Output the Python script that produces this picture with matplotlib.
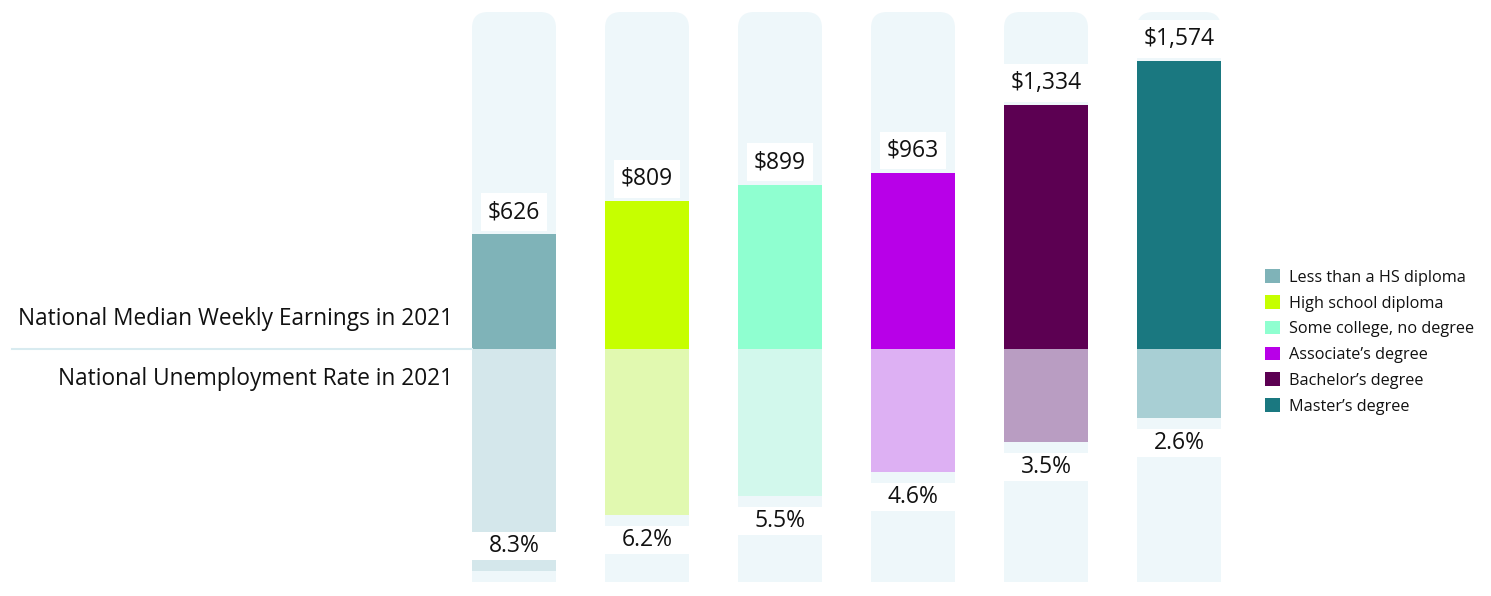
import matplotlib
matplotlib.use("Agg")
import matplotlib.pyplot as plt
from matplotlib.patches import FancyBboxPatch, Patch
from matplotlib.lines import Line2D

plt.rcParams['font.family'] = ['Open Sans', 'DejaVu Sans']

# Dados
categorias = ["Less than a HS diploma", "High school diploma", "Some college, no degree",
              "Associate\u2019s degree", "Bachelor\u2019s degree", "Master\u2019s degree"]
ganhos = [626, 809, 899, 963, 1334, 1574]
ganhos_txt = ["$626", "$809", "$899", "$963", "$1,334", "$1,574"]
desemprego = [8.3, 6.2, 5.5, 4.6, 3.5, 2.6]
desemprego_txt = ["8.3%", "6.2%", "5.5%", "4.6%", "3.5%", "2.6%"]

cores = ["#7fb3b8", "#c6ff00", "#8fffd0", "#b800e8", "#5c0052", "#1a7880"]
cores_claras = ["#d4e7eb", "#e1f9b0", "#d2f8ec", "#ddb0f3", "#b99dc2", "#a8cfd4"]
fundo = "#eef7fa"
texto = "#111111"

W, H = 1491, 596
fig = plt.figure(figsize=(W / 100, H / 100), dpi=100)

# eixos em pixels
x0, x1 = 447.5, 1245.5
y_topo, y_base, y_fim = 12, 349, 582
px_por_dolar = 288 / 1574
px_por_pct = 26.7

ax_top = fig.add_axes([x0 / W, (H - y_base) / H, (x1 - x0) / W, (y_base - y_topo) / H])
ax_bot = fig.add_axes([x0 / W, (H - y_fim) / H, (x1 - x0) / W, (y_fim - y_base) / H])

lim_top = (y_base - y_topo) / px_por_dolar
lim_bot = (y_fim - y_base) / px_por_pct
larg = 84 / 133
pos = list(range(len(categorias)))

for ax in (ax_top, ax_bot):
    ax.set_xlim(-0.5, len(categorias) - 0.5)
    ax.axis("off")
ax_top.set_ylim(0, lim_top)
ax_bot.set_ylim(lim_bot, 0)

# Fundo das colunas (cantos arredondados em cima)
raio_px = 16
raio_x = raio_px / 133
aspecto = (raio_px / px_por_dolar) / raio_x
for p in pos:
    caixa = FancyBboxPatch((p - larg / 2, 0), larg, lim_top,
                           boxstyle=f"round,pad=0,rounding_size={raio_x}",
                           mutation_aspect=aspecto, facecolor=fundo, edgecolor="none",
                           clip_on=False, zorder=0)
    ax_top.add_patch(caixa)
ax_bot.bar(pos, [lim_bot] * len(pos), width=larg, color=fundo, zorder=0)

# Barras
ax_top.bar(pos, ganhos, width=larg, color=cores, zorder=2)
ax_bot.bar(pos, desemprego, width=larg, color=cores_claras, zorder=2)

# Rótulos de ganhos
for p, v, t in zip(pos, ganhos, ganhos_txt):
    ax_top.annotate(t, (p, v), xytext=(0, 16), textcoords="offset points",
                    ha="center", va="center", fontsize=16.5, color=texto, zorder=4,
                    bbox=dict(boxstyle="square,pad=0.3", facecolor="white", edgecolor="none"))

# Rótulos de desemprego (caixa branca na largura da coluna)
gap = 11 / px_por_pct
alt = 28 / px_por_pct
for p, v, t in zip(pos, desemprego, desemprego_txt):
    ini = v + gap
    if ini + alt > lim_bot - 0.4:
        ini = v - gap - alt
    ax_bot.bar(p, alt, bottom=ini, width=larg, color="white", zorder=3)
    ax_bot.text(p, ini + alt / 2, t, ha="center", va="center", fontsize=16.5,
                color=texto, zorder=4)

# Textos da esquerda e linha divisória
fig.text(453 / W, 1 - 319 / H, "National Median Weekly Earnings in 2021",
         ha="right", va="center", fontsize=16.3, color=texto)
fig.text(453 / W, 1 - 379 / H, "National Unemployment Rate in 2021",
         ha="right", va="center", fontsize=16.3, color=texto)
fig.add_artist(Line2D([12 / W, 472 / W], [1 - y_base / H, 1 - y_base / H],
                      color="#d8ebf0", linewidth=1.5))

# Legenda
handles = [Patch(facecolor=c, edgecolor="none") for c in cores]
fig.legend(handles, categorias, loc="center left",
           bbox_to_anchor=(1265 / W, 1 - 342 / H), frameon=False,
           fontsize=11.7, handlelength=0.9, handleheight=0.9,
           handletextpad=0.55, labelspacing=0.58, borderpad=0, borderaxespad=0,
           labelcolor=texto)

fig.savefig("out.png", dpi=100)
